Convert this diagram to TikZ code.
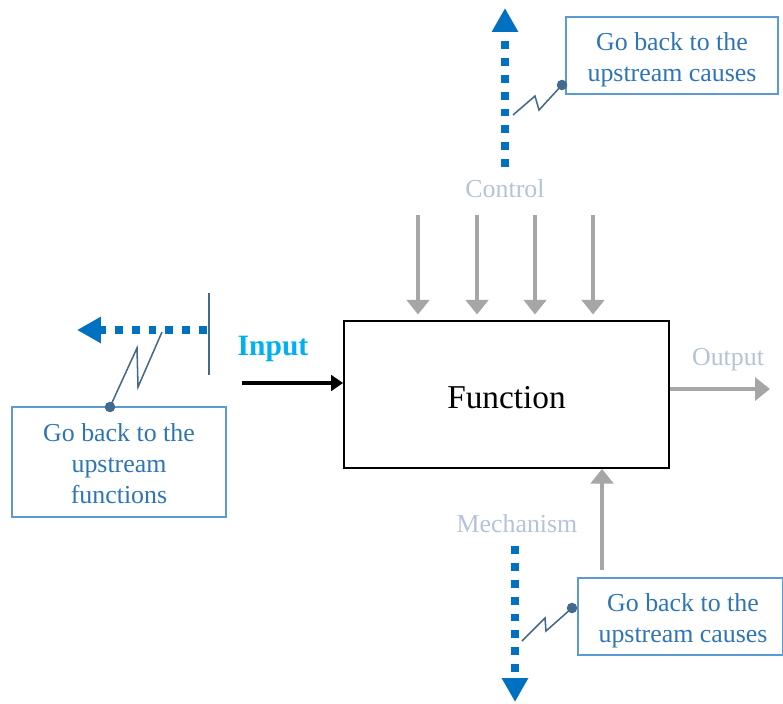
\documentclass[tikz,border=0pt]{standalone}
\usepackage{fontspec}
\setmainfont{Liberation Serif}
\usetikzlibrary{arrows.meta}
\definecolor{backblue}{HTML}{0070C0}
\definecolor{notetext}{HTML}{2E75B6}
\definecolor{noteline}{HTML}{5B9BD5}
\definecolor{boltline}{HTML}{44698F}
\definecolor{flowgray}{HTML}{A6A6A6}
\definecolor{labelgray}{HTML}{B4C3D8}
\definecolor{inputcyan}{HTML}{00B0F0}

\begin{document}
\begin{tikzpicture}[x=0.025cm, y=-0.025cm, every node/.style={font=\fontsize{18.4}{22}\selectfont},
	note/.style={draw=noteline, line width=1.1pt, inner sep=0pt},
	notetxt/.style={text=notetext, align=center, inner sep=0pt},
	lbl/.style={text=labelgray},
	flow/.style={flowgray, line width=2.8pt, -{Triangle[width=16pt,length=10.5pt]}},
	back/.style={backblue, line width=5.6pt, dash pattern=on 5.6pt off 6.4pt, -{Triangle[width=17.7pt,length=17pt]}},
	bolt/.style={boltline, line width=1.1pt},
	pin/.style={circle, fill=boltline, inner sep=0pt, minimum size=7.5pt}]
	\useasboundingbox (0,0) rectangle (783,704);
	% the activity box
	\node[draw, line width=1.2pt, minimum width=8.125cm, minimum height=3.675cm] (fn) at (506.5,394.5) {};
	\node[font=\fontsize{23.7}{28}\selectfont] (fntxt) at (506.5,398) {Function};
	% control
	\node[lbl] (ctl) at (505,189) {Control};
	\foreach \x/\n in {418/1, 477/2, 535/3, 593/4} {
		\coordinate (c\n) at (\x,215);
		\draw[flow, shorten >=4pt] (c\n) -- (c\n |- fn.north);
	}
	% input
	\node[text=inputcyan, font=\bfseries\fontsize{21}{25}\selectfont] (inp) at (273,349) {Input};
	\coordinate (inFoot) at (242,383);
	\draw[line width=2.7pt, -{Triangle[width=11pt,length=8.5pt]}] (inFoot) -- (inFoot -| fn.west);
	% output
	\node[lbl] (outp) at (728,360) {Output};
	\coordinate (outEnd) at (770,389);
	\draw[flow] (outEnd -| fn.east) -- (outEnd);
	% mechanism
	\node[lbl] (mech) at (517,524) {Mechanism};
	\coordinate (mechFoot) at (602,570);
	\draw[flow] (mechFoot) -- (mechFoot |- fn.south);
	% going back upstream
	\coordinate (upFrom) at (505,167);
	\coordinate (upTo) at (505,8);
	\draw[back] (upFrom) -- (upTo);
	\coordinate (leftFrom) at (207,330);
	\coordinate (leftTo) at (77,330);
	\draw[back] (leftFrom) -- (leftTo);
	\coordinate (barTop) at (209,293);
	\coordinate (barBot) at (209,375);
	\draw[bolt] (barTop) -- (barBot);
	\coordinate (downFrom) at (515,546);
	\coordinate (downTo) at (515,702);
	\draw[back] (downFrom) -- (downTo);
	% callouts
	\node[note, minimum width=5.3cm, minimum height=1.925cm] (noteA) at (672,55.5) {};
	\node[notetxt] (txtA) at (672,59.5) {Go back to the\\upstream causes};
	\node[note, minimum width=5.35cm, minimum height=2.75cm] (noteB) at (119,462) {};
	\node[notetxt] (txtB) at (119,463.5) {Go back to the\\upstream\\functions};
	\node[note, minimum width=5.125cm, minimum height=1.925cm] (noteC) at (680.5,616.5) {};
	\node[notetxt] (txtC) at (683,621) {Go back to the\\upstream causes};
	\node[pin] (pinA) at (562,85) {};
	\node[pin] (pinB) at (110,407) {};
	\node[pin] (pinC) at (572,608) {};
	\draw[bolt] (pinA.center) -- (539,110) -- (535,96) -- (513,115);
	\draw[bolt] (pinB.center) -- (137,348) -- (138,387) -- (162,332);
	\draw[bolt] (pinC.center) -- (546,631) -- (545,618) -- (522,641);
\end{tikzpicture}
\end{document}
